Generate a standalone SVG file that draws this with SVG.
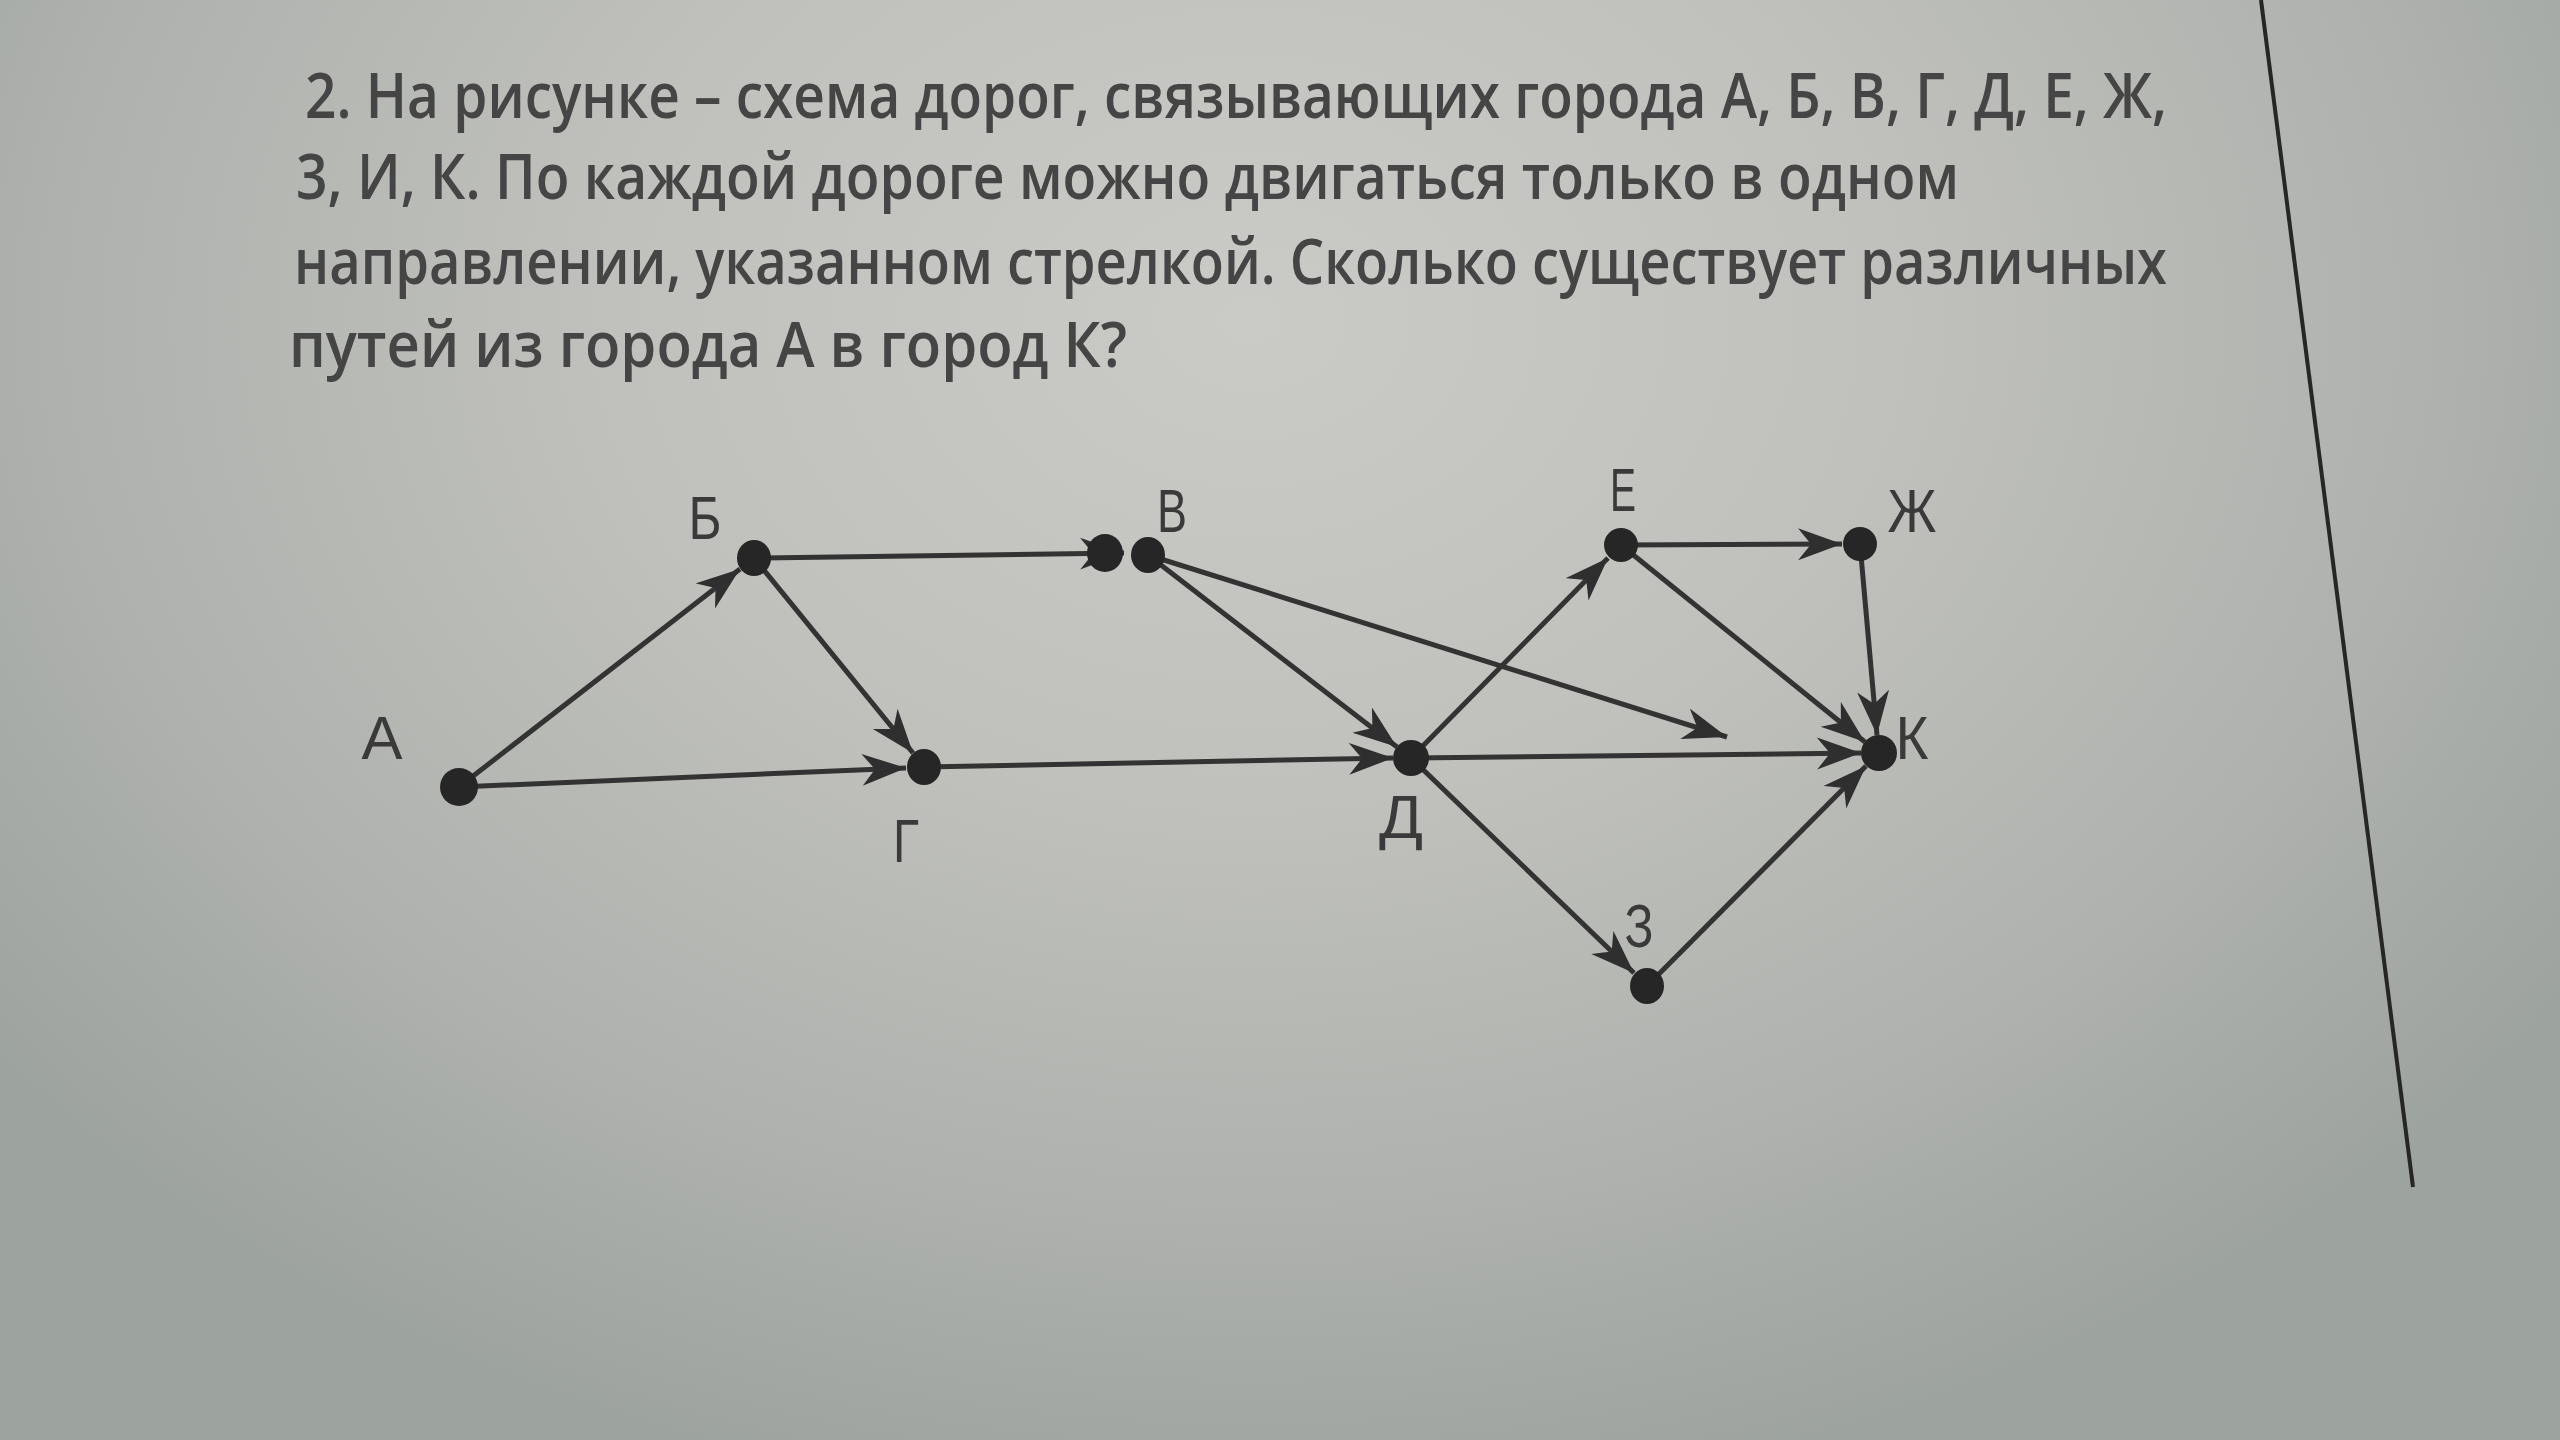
<svg xmlns="http://www.w3.org/2000/svg" width="2560" height="1440" viewBox="0 0 2560 1440">
<defs>
<radialGradient id="bg" cx="1250" cy="320" r="1600" gradientUnits="userSpaceOnUse" gradientTransform="translate(1250 320) scale(1 0.75) translate(-1250 -320)">
<stop offset="0" stop-color="#cacbc7"/>
<stop offset="0.4" stop-color="#c0c1bd"/>
<stop offset="0.75" stop-color="#aeb1ad"/>
<stop offset="1" stop-color="#9da39f"/>
</radialGradient>
<marker id="arr" markerUnits="userSpaceOnUse" markerWidth="50" markerHeight="36" refX="44" refY="16" orient="auto">
<path d="M0,0 L44,16 L0,32 L13,16 z" fill="#2f2f2f"/>
</marker>
<style>
.q{font-family:"Open Sans","Noto Sans","Liberation Sans",sans-serif;font-size:64px;font-weight:600;fill:#454545}
.lb{font-family:"Liberation Sans","DejaVu Sans",sans-serif;font-size:62px;fill:#3a3a3a;text-anchor:middle}
.dot{fill:#262626}
.e{stroke:#333;stroke-width:5;fill:none;marker-end:url(#arr)}
</style>
</defs>
<rect width="2560" height="1440" fill="url(#bg)"/>
<line x1="2261" y1="0" x2="2413" y2="1187" stroke="#262626" stroke-width="4"/>

<g id="question">
<text class="q" x="305" y="118" textLength="1862" lengthAdjust="spacingAndGlyphs">2. На рисунке – схема дорог, связывающих города А, Б, В, Г, Д, Е, Ж,</text>
<text class="q" x="296" y="199" textLength="1663" lengthAdjust="spacingAndGlyphs">3, И, К. По каждой дороге можно двигаться только в одном</text>
<text class="q" x="294" y="284" textLength="1873" lengthAdjust="spacingAndGlyphs">направлении, указанном стрелкой. Сколько существует различных</text>
<text class="q" x="289" y="367" textLength="838" lengthAdjust="spacingAndGlyphs">путей из города А в город К?</text>
</g>

<g id="connectors">
<line class="e" x1="459" y1="787" x2="740" y2="569"/>
<line class="e" x1="459" y1="787" x2="906" y2="768"/>
<line class="e" x1="754" y1="558" x2="913" y2="753"/>
<line class="e" x1="754" y1="558" x2="1124" y2="553"/>
<line class="e" x1="924" y1="767" x2="1393" y2="758"/>
<line class="e" x1="1148" y1="555" x2="1397" y2="747"/>
<line class="e" x1="1148" y1="555" x2="1727" y2="737"/>
<line class="e" x1="1411" y1="758" x2="1861" y2="753"/>
<line class="e" x1="1411" y1="758" x2="1608" y2="558"/>
<line class="e" x1="1411" y1="758" x2="1634" y2="973"/>
<line class="e" x1="1621" y1="545" x2="1842" y2="544"/>
<line class="e" x1="1621" y1="545" x2="1865" y2="742"/>
<line class="e" x1="1860" y1="544" x2="1877" y2="735"/>
<line class="e" x1="1647" y1="986" x2="1866" y2="766"/>
</g>

<g id="node-A"><ellipse class="dot" cx="459" cy="787" rx="19" ry="19"/><text class="lb" x="382" y="759" textLength="41" lengthAdjust="spacingAndGlyphs">А</text></g>
<g id="node-B"><ellipse class="dot" cx="754" cy="558" rx="17" ry="18"/><text class="lb" x="705" y="539" textLength="33" lengthAdjust="spacingAndGlyphs">Б</text></g>
<g id="node-V"><ellipse class="dot" cx="1105" cy="553" rx="18" ry="19"/><ellipse class="dot" cx="1148" cy="555" rx="17" ry="18"/><text class="lb" x="1172" y="532" textLength="30" lengthAdjust="spacingAndGlyphs">В</text></g>
<g id="node-G"><ellipse class="dot" cx="924" cy="767" rx="17" ry="18"/><text class="lb" x="906" y="862" textLength="26" lengthAdjust="spacingAndGlyphs">Г</text></g>
<g id="node-D"><ellipse class="dot" cx="1411" cy="758" rx="18" ry="18"/><text class="lb" x="1401" y="838" textLength="44" lengthAdjust="spacingAndGlyphs">Д</text></g>
<g id="node-E"><ellipse class="dot" cx="1621" cy="545" rx="17" ry="17"/><text class="lb" x="1623" y="511" textLength="26" lengthAdjust="spacingAndGlyphs">Е</text></g>
<g id="node-Zh"><ellipse class="dot" cx="1860" cy="544" rx="17" ry="17"/><text class="lb" x="1912" y="532" textLength="49" lengthAdjust="spacingAndGlyphs">Ж</text></g>
<g id="node-K"><ellipse class="dot" cx="1879" cy="753" rx="18" ry="18"/><text class="lb" x="1912" y="759" textLength="33" lengthAdjust="spacingAndGlyphs">К</text></g>
<g id="node-Z"><ellipse class="dot" cx="1647" cy="986" rx="17" ry="18"/><text class="lb" x="1639" y="947" textLength="29" lengthAdjust="spacingAndGlyphs">З</text></g>
</svg>
